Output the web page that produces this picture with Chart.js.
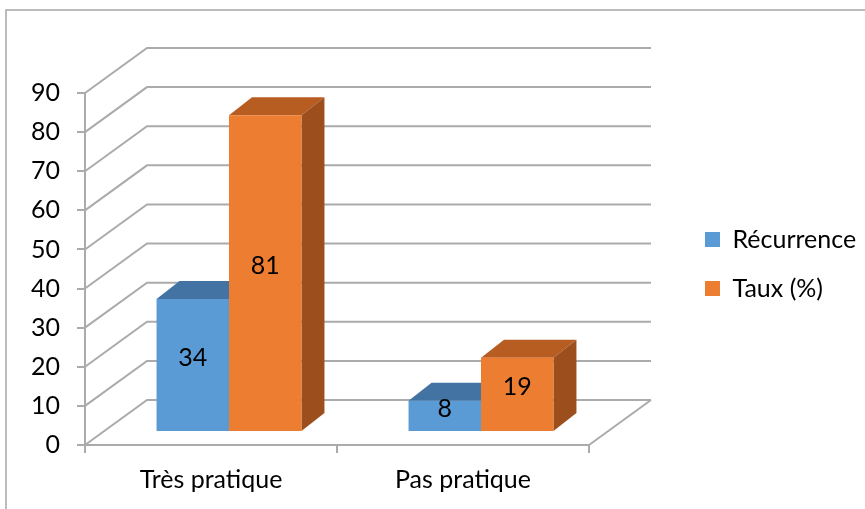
<!DOCTYPE html>
<html>
<head>
<meta charset="utf-8">
<script src="https://cdn.jsdelivr.net/npm/chart.js@4/dist/chart.umd.min.js"></script>
<style>
  html, body { margin: 0; padding: 0; background: #fff; }
  #wrap { width: 865px; height: 509px; }
</style>
</head>
<body>
<div id="wrap"><canvas id="myChart" width="865" height="509"></canvas></div>
<script>
// data
const categories = ['Très pratique', 'Pas pratique'];
const seriesNames = ['Récurrence', 'Taux (%)'];
const recurrence = [34, 8];
const taux = [81, 19];
const yTicks = [0, 10, 20, 30, 40, 50, 60, 70, 80, 90];

const blue = '#5B9BD5', blueTop = '#4373A3', blueSide = '#3C6690';
const orange = '#ED7D31', orangeTop = '#B85D21', orangeSide = '#9C4F1C';
const gray = '#ababab';

const WALL = {dx: 62, dy: -45};      // floor / back wall depth
const SHIFT = {dx: 18, dy: -13};     // bars stand a bit behind the front plane
const DEPTH = {dx: 23, dy: -18};     // bar thickness
const PLOT_RIGHT = 589;              // right end of the floor front edge
const LEGEND_X = 705, LEGEND_DY = -37;
const LEG_PAD = 24, LEG_BOX = 15, FONT_SIZE = 25;

Chart.defaults.font.family = 'Lato';
Chart.defaults.font.size = FONT_SIZE;
Chart.defaults.color = '#000';

// legend width as chart.js will compute it, so the plot ends where excel's did
const mctx = document.createElement('canvas').getContext('2d');
mctx.font = FONT_SIZE + 'px Lato';
const legW = LEG_PAD + LEG_BOX + FONT_SIZE / 2 +
  Math.max(...seriesNames.map(s => mctx.measureText(s).width)) + 10;
const padRight = 865 - PLOT_RIGHT - legW;

const faces = [[blueTop, blueSide], [orangeTop, orangeSide]];

const frame3d = {
  id: 'frame3d',
  afterLayout(chart) {
    // push the legend over to the right, where excel had it
    const lg = chart.legend;
    const dx = LEGEND_X - LEG_PAD - lg.left;
    lg.left += dx; lg.right += dx;
    lg.top += LEGEND_DY; lg.bottom += LEGEND_DY;
  },
  beforeDraw(chart) {
    const ctx = chart.ctx;
    ctx.save();
    ctx.fillStyle = '#fff';
    ctx.fillRect(0, 0, chart.width, chart.height);
    // outer chart border (right/bottom cut off in the original)
    ctx.strokeStyle = '#a6a6a6';
    ctx.lineWidth = 1.5;
    ctx.beginPath();
    ctx.moveTo(6, chart.height);
    ctx.lineTo(6, 10);
    ctx.lineTo(chart.width, 10);
    ctx.stroke();
    ctx.restore();
  },
  beforeDatasetsDraw(chart) {
    const ctx = chart.ctx;
    const xs = chart.scales.x, ys = chart.scales.y;
    ctx.save();
    ctx.strokeStyle = gray;
    ctx.lineWidth = 2;
    ctx.beginPath();
    ys.ticks.forEach(t => {
      const py = ys.getPixelForValue(t.value);
      ctx.moveTo(xs.left, py);
      ctx.lineTo(xs.left + WALL.dx, py + WALL.dy);
      ctx.lineTo(xs.right + WALL.dx, py + WALL.dy);
    });
    const p0 = ys.getPixelForValue(0);
    ctx.moveTo(xs.right, p0);
    ctx.lineTo(xs.right + WALL.dx, p0 + WALL.dy);
    ctx.stroke();

    // bars: top and side faces, front face is drawn by chart.js
    ctx.translate(SHIFT.dx, SHIFT.dy);
    chart.data.datasets.forEach((ds, di) => {
      const meta = chart.getDatasetMeta(di);
      meta.data.forEach(el => {
        const {x, y, base, width} = el.getProps(['x', 'y', 'base', 'width'], true);
        const l = x - width / 2, r = x + width / 2;
        ctx.fillStyle = faces[di][0];
        ctx.beginPath();
        ctx.moveTo(l, y);
        ctx.lineTo(r, y);
        ctx.lineTo(r + DEPTH.dx, y + DEPTH.dy);
        ctx.lineTo(l + DEPTH.dx, y + DEPTH.dy);
        ctx.closePath();
        ctx.fill();
        ctx.fillStyle = faces[di][1];
        ctx.beginPath();
        ctx.moveTo(r, y);
        ctx.lineTo(r + DEPTH.dx, y + DEPTH.dy);
        ctx.lineTo(r + DEPTH.dx, base + DEPTH.dy);
        ctx.lineTo(r, base);
        ctx.closePath();
        ctx.fill();
      });
    });
  },
  afterDatasetsDraw(chart) {
    const ctx = chart.ctx;
    ctx.fillStyle = '#000';
    ctx.font = FONT_SIZE + 'px Lato';
    ctx.textAlign = 'center';
    ctx.textBaseline = 'middle';
    chart.data.datasets.forEach((ds, di) => {
      chart.getDatasetMeta(di).data.forEach((el, i) => {
        const {x, y, base} = el.getProps(['x', 'y', 'base'], true);
        ctx.fillText(ds.data[i], x, (y + base) / 2 - 7);
      });
    });
    ctx.restore();
  }
};

new Chart(document.getElementById('myChart'), {
  type: 'bar',
  data: {
    labels: categories,
    datasets: [
      { label: seriesNames[0], data: recurrence, backgroundColor: blue, borderWidth: 0 },
      { label: seriesNames[1], data: taux, backgroundColor: orange, borderWidth: 0 }
    ]
  },
  options: {
    responsive: false,
    animation: false,
    devicePixelRatio: 1,
    categoryPercentage: 0.575,
    barPercentage: 1,
    clip: false,
    layout: { padding: { top: 93, left: 0, right: padRight, bottom: 0 } },
    plugins: {
      tooltip: { enabled: false },
      legend: {
        position: 'right',
        labels: {
          boxWidth: LEG_BOX,
          boxHeight: LEG_BOX,
          padding: LEG_PAD,
          font: { size: FONT_SIZE, lineHeight: 1 },
          color: '#000'
        }
      }
    },
    scales: {
      x: {
        grid: { drawOnChartArea: false, tickLength: 8, color: gray, lineWidth: 2 },
        border: { color: gray, width: 2 },
        ticks: { padding: 12, maxRotation: 0 },
        afterFit: s => { s.height = 64; }
      },
      y: {
        min: 0,
        max: 90,
        afterBuildTicks: s => { s.ticks = yTicks.map(v => ({value: v})); },
        grid: { drawOnChartArea: false, tickLength: 8, color: gray, lineWidth: 2 },
        border: { color: gray, width: 2 },
        ticks: { padding: 17 },
        afterFit: s => { s.width = 85; }
      }
    }
  },
  plugins: [frame3d]
});
</script>
</body>
</html>
